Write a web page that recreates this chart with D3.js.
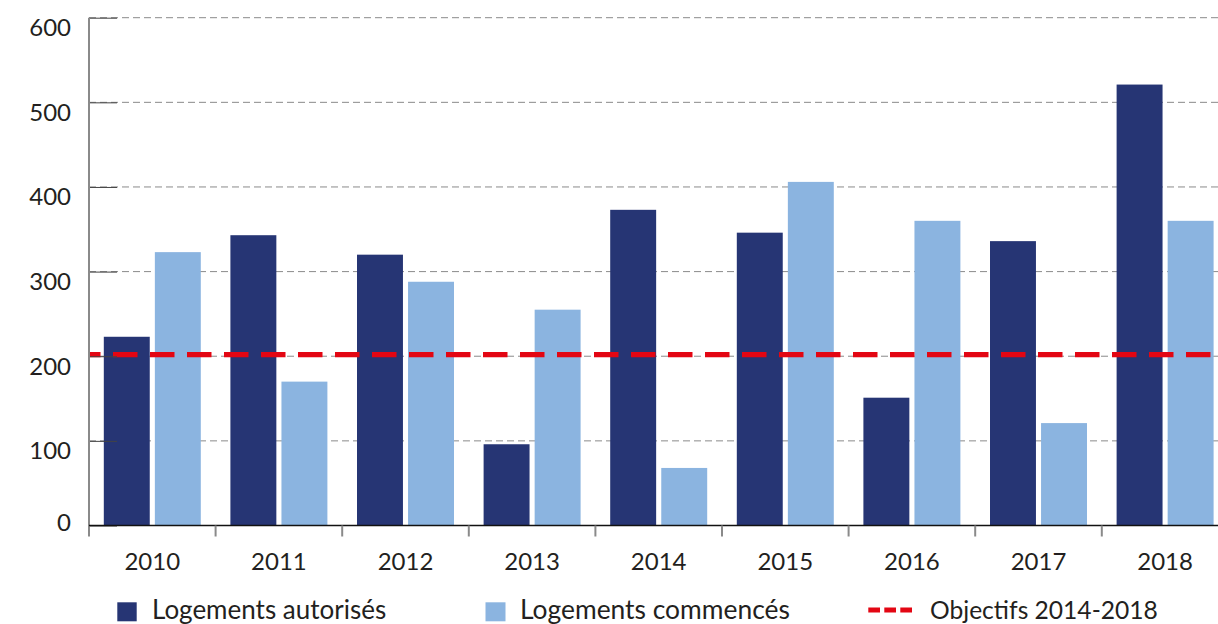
<!DOCTYPE html>
<html>
<head>
<meta charset="utf-8">
<script src="https://cdn.jsdelivr.net/npm/d3@7.8.5/dist/d3.min.js"></script>
<style>
  html, body { margin: 0; padding: 0; background: #fff; }
  svg { display: block; }
  text { font-family: Lato, "Open Sans", sans-serif; fill: #231f20; }
</style>
</head>
<body>
<div id="chart"></div>
<script>
// Data
const years = ['2010', '2011', '2012', '2013', '2014', '2015', '2016', '2017', '2018'];
const autorises = [223, 343, 320, 96, 373, 346, 151, 336, 521];
const commences = [323, 170, 288, 255, 68, 406, 360, 121, 360];
const objectif = 202;
const yTicks = [0, 100, 200, 300, 400, 500, 600];
const seriesNames = ['Logements autorisés', 'Logements commencés', 'Objectifs 2014-2018'];

const colors = { dark: '#263574', light: '#8bb4e0', red: '#e30613' };

const width = 1218, height = 624;
const margin = { left: 89, top: 17.7 };
const baseY = 525.5;
const step = 126.6;

const svg = d3.select('#chart').append('svg')
    .attr('width', width)
    .attr('height', height);

const x = d3.scaleBand()
    .domain(years)
    .range([margin.left, margin.left + step * years.length])
    .padding(0);

const xInner = d3.scaleBand()
    .domain(['a', 'c'])
    .range([0, x.bandwidth()])
    .paddingInner(0.1)
    .paddingOuter(0.29);

const y = d3.scaleLinear()
    .domain([0, 600])
    .range([baseY, margin.top]);

// Gridlines (dashed)
svg.append('g')
    .selectAll('line')
    .data(yTicks.filter(d => d > 0))
    .enter().append('line')
    .attr('x1', margin.left).attr('x2', width)
    .attr('y1', d => y(d)).attr('y2', d => y(d))
    .attr('stroke', '#8a8a8a')
    .attr('stroke-width', 1)
    .attr('stroke-dasharray', '7,4');

// Bars
const groups = svg.append('g')
    .selectAll('g')
    .data(years)
    .enter().append('g')
    .attr('transform', d => `translate(${x(d)},0)`);

groups.append('rect')
    .attr('x', xInner('a'))
    .attr('width', xInner.bandwidth())
    .attr('y', (d, i) => y(autorises[i]))
    .attr('height', (d, i) => baseY - y(autorises[i]))
    .attr('fill', colors.dark);

groups.append('rect')
    .attr('x', xInner('c'))
    .attr('width', xInner.bandwidth())
    .attr('y', (d, i) => y(commences[i]))
    .attr('height', (d, i) => baseY - y(commences[i]))
    .attr('fill', colors.light);

// Objective line
svg.append('line')
    .attr('x1', margin.left).attr('x2', width)
    .attr('y1', y(objectif)).attr('y2', y(objectif))
    .attr('stroke', colors.red)
    .attr('stroke-width', 5.3)
    .attr('stroke-dasharray', '24.5,12.5')
    .attr('stroke-dashoffset', 13);

// Y axis
const yAxis = svg.append('g')
    .attr('transform', `translate(${margin.left},0)`)
    .call(d3.axisRight(y).tickValues(yTicks).tickSize(28).tickFormat(''));
yAxis.select('.domain').remove();
yAxis.selectAll('.tick line').attr('stroke', '#444');

svg.append('line')
    .attr('x1', margin.left).attr('x2', margin.left)
    .attr('y1', margin.top).attr('y2', baseY + 11)
    .attr('stroke', '#8a8a8a')
    .attr('stroke-width', 2);

svg.append('g')
    .selectAll('text')
    .data(yTicks)
    .enter().append('text')
    .attr('x', 71)
    .attr('y', d => Math.min(y(d) + 18.3, baseY + 5))
    .attr('text-anchor', 'end')
    .style('font-size', '24px')
    .text(d => d);

// X axis
const xAxis = svg.append('g')
    .attr('transform', `translate(0,${baseY})`)
    .call(d3.axisBottom(x).tickSize(0).tickFormat(''));
xAxis.select('.domain')
    .attr('d', `M${margin.left},0H${width}`)
    .attr('stroke', '#111')
    .attr('stroke-width', 1.6);

svg.append('g')
    .selectAll('line')
    .data(years.slice(1))
    .enter().append('line')
    .attr('x1', d => x(d)).attr('x2', d => x(d))
    .attr('y1', baseY).attr('y2', baseY + 11)
    .attr('stroke', '#8a8a8a')
    .attr('stroke-width', 2);

svg.append('g')
    .selectAll('text')
    .data(years)
    .enter().append('text')
    .attr('x', d => x(d) + x.bandwidth() / 2)
    .attr('y', 570)
    .attr('text-anchor', 'middle')
    .style('font-size', '24px')
    .text(d => d);

// Legend
const legend = svg.append('g');
legend.append('rect')
    .attr('x', 117.3).attr('y', 602.3).attr('width', 19.4).attr('height', 19)
    .attr('fill', colors.dark);
legend.append('text')
    .attr('x', 152).attr('y', 619.3)
    .style('font-size', '26px')
    .text(seriesNames[0]);

legend.append('rect')
    .attr('x', 485.5).attr('y', 602.3).attr('width', 20).attr('height', 19)
    .attr('fill', colors.light);
legend.append('text')
    .attr('x', 520).attr('y', 619.3)
    .style('font-size', '26.4px')
    .text(seriesNames[1]);

legend.append('line')
    .attr('x1', 868.3).attr('x2', 912)
    .attr('y1', 610).attr('y2', 610)
    .attr('stroke', colors.red)
    .attr('stroke-width', 5)
    .attr('stroke-dasharray', '11.7,4.3');
legend.append('text')
    .attr('x', 930).attr('y', 619.3)
    .style('font-size', '24.6px')
    .text(seriesNames[2]);
</script>
</body>
</html>
